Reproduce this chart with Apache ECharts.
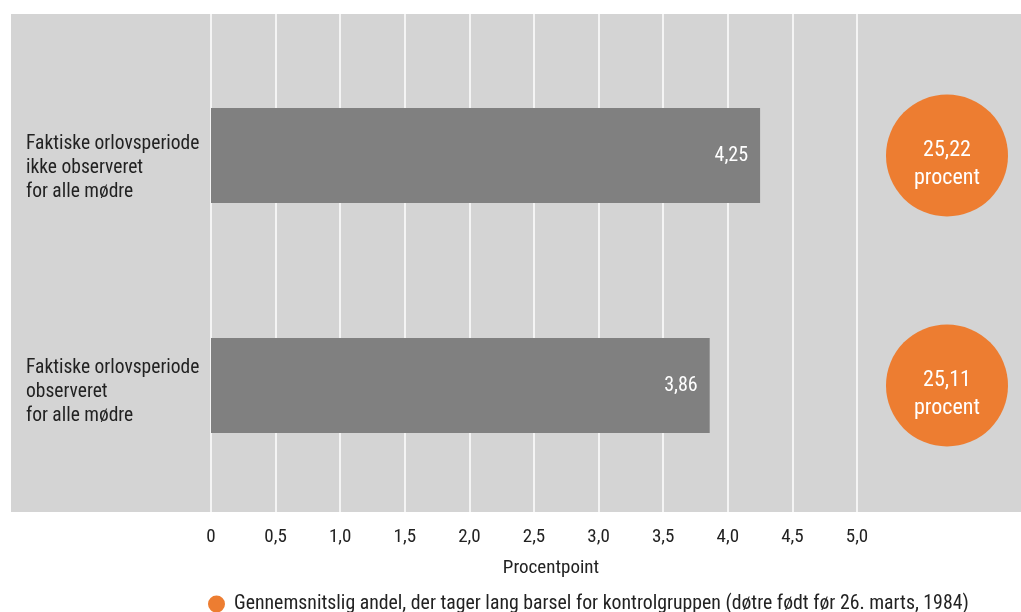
<!DOCTYPE html>
<html>
<head>
<meta charset="utf-8">
<script src="https://cdn.jsdelivr.net/npm/echarts@6/dist/echarts.min.js"></script>
<style>html,body{margin:0;padding:0;background:#fff}#c{width:1021px;height:612px}</style>
</head>
<body>
<div id="c"></div>
<script>
const categories = ['Faktiske orlovsperiode\nikke observeret\nfor alle mødre', 'Faktiske orlovsperiode\nobserveret\nfor alle mødre'];
const effectValues = [4.25, 3.86];
const controlValues = [25.22, 25.11];
const xTickLabels = ['0', '0,5', '1,0', '1,5', '2,0', '2,5', '3,0', '3,5', '4,0', '4,5', '5,0'];
const xAxisName = 'Procentpoint';
const controlName = 'Gennemsnitslig andel, der tager lang barsel for kontrolgruppen (døtre født før 26. marts, 1984)';

const FONT = "'Roboto Condensed', 'Liberation Sans Narrow', sans-serif";
const fmt = v => v.toFixed(2).replace('.', ',');
const labelGaps = [26, 14];

const chart = echarts.init(document.getElementById('c'), null, {renderer: 'canvas'});
chart.setOption({
  backgroundColor: '#ffffff',
  textStyle: {fontFamily: FONT},
  graphic: {
    z: -100,
    elements: [{type: 'rect', z: -100, left: 11, top: 14, shape: {width: 1010, height: 498}, style: {fill: '#d4d4d4'}, silent: true}]
  },
  grid: [
    {left: 211, right: 164, top: 14, bottom: 100},
    {left: 211, right: 164, top: 40.5, bottom: 111.5},
    {left: 873, right: 0, top: 40.5, bottom: 111.5}
  ],
  xAxis: [
    {gridIndex: 0, type: 'value', min: 0, max: 5, interval: 0.5,
     axisLine: {show: false}, axisTick: {show: false},
     splitLine: {show: true, lineStyle: {color: '#ffffff', width: 1.5}},
     axisLabel: {margin: 16, fontSize: 19, color: '#222', fontFamily: FONT, formatter: (v, i) => xTickLabels[i]},
     name: xAxisName, nameLocation: 'middle', nameGap: 47,
     nameTextStyle: {fontSize: 19, color: '#222', fontFamily: FONT, padding: [0, 0, 0, 34]}},
    {gridIndex: 1, type: 'value', min: 0, max: 5, show: false},
    {gridIndex: 2, type: 'category', data: ['k'], show: false}
  ],
  yAxis: [
    {gridIndex: 0, type: 'value', show: false},
    {gridIndex: 1, type: 'category', inverse: true, data: categories,
     axisLine: {show: false}, axisTick: {show: false}, splitLine: {show: false},
     axisLabel: {align: 'left', margin: 185, color: '#222', fontFamily: FONT,
       formatter: (v, i) => '{g' + i + '|}\n' + v.split('\n').map(s => '{t|' + s + '}').join('\n'),
       rich: {
         t: {fontSize: 19.5, lineHeight: 24, color: '#222', fontFamily: FONT, align: 'left'},
         g0: {height: labelGaps[0], lineHeight: labelGaps[0], fontSize: 1},
         g1: {height: labelGaps[1], lineHeight: labelGaps[1], fontSize: 1}
       }}},
    {gridIndex: 2, type: 'category', inverse: true, data: categories, show: false}
  ],
  legend: {
    data: [{name: controlName, icon: 'circle'}],
    left: 208, top: 594, padding: 0, itemWidth: 25, itemHeight: 17, itemGap: 8,
    textStyle: {fontSize: 19.8, color: '#222', fontFamily: FONT}
  },
  series: [
    {type: 'bar', name: 'effekt', xAxisIndex: 1, yAxisIndex: 1, data: effectValues,
     barWidth: 95, itemStyle: {color: '#808080'},
     label: {show: true, position: 'insideRight', distance: 12, color: '#fff', fontSize: 20, fontFamily: FONT, formatter: p => fmt(p.value)}},
    {type: 'scatter', name: controlName, xAxisIndex: 2, yAxisIndex: 2,
     data: controlValues.map((v, i) => ({value: [0, i], v: v})),
     symbol: 'circle', symbolSize: 122, itemStyle: {color: '#ed7d31', opacity: 1},
     label: {show: true, position: 'inside', offset: [0, 9], color: '#fff', fontSize: 22, lineHeight: 28, fontFamily: FONT,
       formatter: p => fmt(controlValues[p.dataIndex]) + '\nprocent'}}
  ]
});
</script>
</body>
</html>
